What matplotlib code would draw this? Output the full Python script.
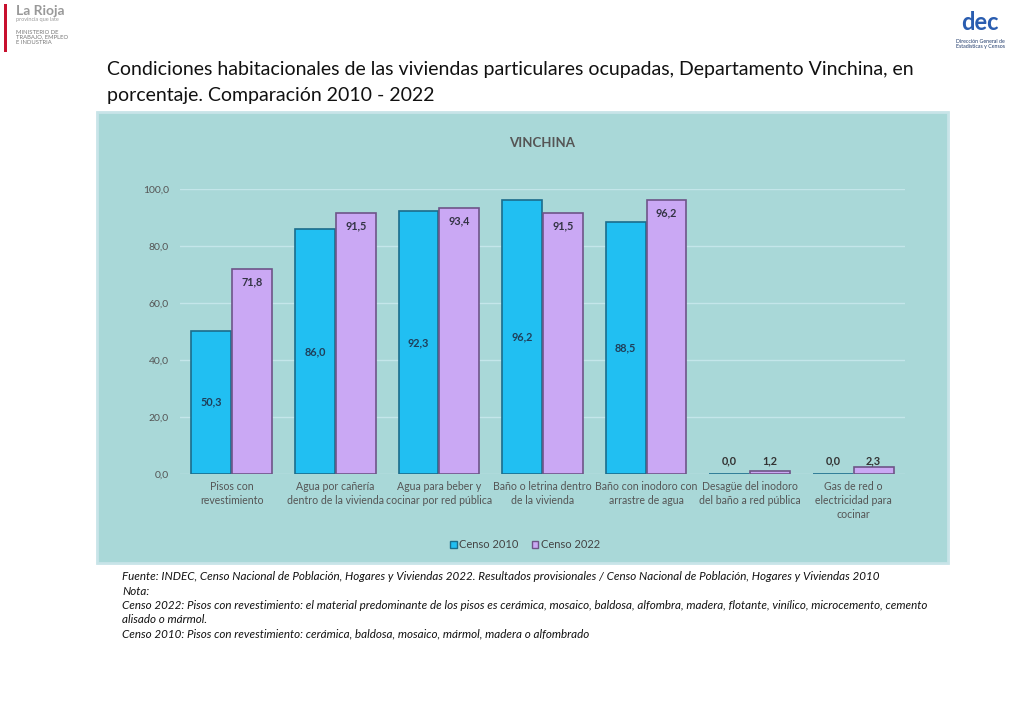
import numpy as np
import matplotlib.pyplot as plt
from matplotlib.patches import Rectangle, Patch

categorias = [
    "Pisos con\nrevestimiento",
    "Agua por cañería\ndentro de la vivienda",
    "Agua para beber y\ncocinar por red pública",
    "Baño o letrina dentro\nde la vivienda",
    "Baño con inodoro con\narrastre de agua",
    "Desagüe del inodoro\ndel baño a red pública",
    "Gas de red o\nelectricidad para\ncocinar",
]
censo_2010 = [50.3, 86.0, 92.3, 96.2, 88.5, 0.0, 0.0]
censo_2022 = [71.8, 91.5, 93.4, 91.5, 96.2, 1.2, 2.3]
yticks = [0, 20, 40, 60, 80, 100]

plt.rcParams['font.family'] = ['Lato', 'DejaVu Sans']

fig = plt.figure(figsize=(10.24, 7.09), dpi=100)
fig.patch.set_facecolor('white')

# panel de fondo del grafico
fig.patches.append(Rectangle((97 / 1024, 1 - 563 / 709), 851 / 1024, 451 / 709,
                             transform=fig.transFigure, facecolor='#a9d8d8',
                             edgecolor='#c8e4e8', linewidth=2, zorder=-5))

ax = fig.add_axes([180 / 1024, 1 - 474 / 709, 725 / 1024, 285 / 709])
ax.set_facecolor('none')
ax.set_zorder(2)

x = np.arange(len(categorias)) + 0.5
w = 0.385
b1 = ax.bar(x - 0.197, censo_2010, w, color='#21bff2', edgecolor='#1b6d8c', linewidth=1.2, zorder=3)
b2 = ax.bar(x + 0.197, censo_2022, w, color='#caa8f4', edgecolor='#6e5488', linewidth=1.2, zorder=3)

for xi, v in zip(x - 0.197, censo_2010):
    if v > 5:
        ax.text(xi, v / 2, f"{v:.1f}".replace('.', ','), ha='center', va='center',
                fontsize=7.8, fontweight='bold', color='#1f3f5a', zorder=4)
    else:
        ax.text(xi, 4.6, f"{v:.1f}".replace('.', ','), ha='center', va='center',
                fontsize=7.8, fontweight='bold', color='#333333', zorder=4)
for xi, v in zip(x + 0.197, censo_2022):
    if v > 5:
        ax.text(xi, v - 4.5, f"{v:.1f}".replace('.', ','), ha='center', va='center',
                fontsize=7.8, fontweight='bold', color='#333344', zorder=4)
    else:
        ax.text(xi, 4.6, f"{v:.1f}".replace('.', ','), ha='center', va='center',
                fontsize=7.8, fontweight='bold', color='#333333', zorder=4)

ax.set_xlim(0, len(categorias))
ax.set_ylim(0, 100)
ax.set_yticks(yticks)
ax.set_yticklabels([f"{t:.1f}".replace('.', ',') for t in yticks], fontsize=7.5, color='#555555')
ax.set_xticks(x)
ax.set_xticklabels(categorias, fontsize=7.6, color='#555555', linespacing=1.35)
ax.tick_params(length=0, pad=8)
ax.tick_params(axis='x', pad=5)
ax.grid(axis='y', color='#c4e6ea', linewidth=1, zorder=1)
for s in ax.spines.values():
    s.set_visible(False)

ax.set_title("VINCHINA", fontsize=9.5, fontweight='bold', color='#555555', pad=30)

handles = [Patch(facecolor='#21bff2', edgecolor='#1b6d8c'),
           Patch(facecolor='#caa8f4', edgecolor='#6e5488')]
fig.legend(handles, ["Censo 2010", "Censo 2022"], loc='center',
           bbox_to_anchor=(525 / 1024, 1 - 545 / 709), ncol=2, frameon=False,
           fontsize=8, labelcolor='#444444', handlelength=0.6, handleheight=0.6,
           handletextpad=0.2, columnspacing=1.2)

fig.text(107 / 1024, 1 - 70 / 709,
         "Condiciones habitacionales de las viviendas particulares ocupadas, Departamento Vinchina, en",
         fontsize=14, color='#111111', va='center')
fig.text(107 / 1024, 1 - 96 / 709, "porcentaje. Comparación 2010 - 2022",
         fontsize=14, color='#111111', va='center')

notas = [
    "Fuente: INDEC, Censo Nacional de Población, Hogares y Viviendas 2022. Resultados provisionales / Censo Nacional de Población, Hogares y Viviendas 2010",
    "Nota:",
    "Censo 2022: Pisos con revestimiento: el material predominante de los pisos es cerámica, mosaico, baldosa, alfombra, madera, flotante, vinílico, microcemento, cemento",
    "alisado o mármol.",
    "Censo 2010: Pisos con revestimiento: cerámica, baldosa, mosaico, mármol, madera o alfombrado",
]
for i, linea in enumerate(notas):
    fig.text(122 / 1024, 1 - (577 + i * 14.3) / 709, linea, fontsize=8.4,
             style='italic', color='#111111', va='center')

# encabezado
fig.patches.append(Rectangle((4 / 1024, 1 - 52 / 709), 3 / 1024, 48 / 709,
                             transform=fig.transFigure, facecolor='#c8102e', edgecolor='none'))
fig.text(16 / 1024, 1 - 11 / 709, "La Rioja", fontsize=10, fontweight='bold', color='#999999', va='center')
fig.text(16 / 1024, 1 - 20 / 709, "provincia que late", fontsize=4, color='#999999', va='center')
fig.text(16 / 1024, 1 - 37 / 709, "MINISTERIO DE\nTRABAJO, EMPLEO\nE INDUSTRIA", fontsize=4.2,
         color='#777777', va='center', linespacing=1.0)
fig.text(980 / 1024, 1 - 22 / 709, "dec", fontsize=17, fontweight='bold', color='#2a5db0',
         ha='center', va='center')
fig.text(980 / 1024, 1 - 44 / 709, "Dirección General de\nEstadísticas y Censos", fontsize=3.8,
         color='#1f3a6b', ha='center', va='center', linespacing=1.0)

fig.savefig('out.png', dpi=100)
